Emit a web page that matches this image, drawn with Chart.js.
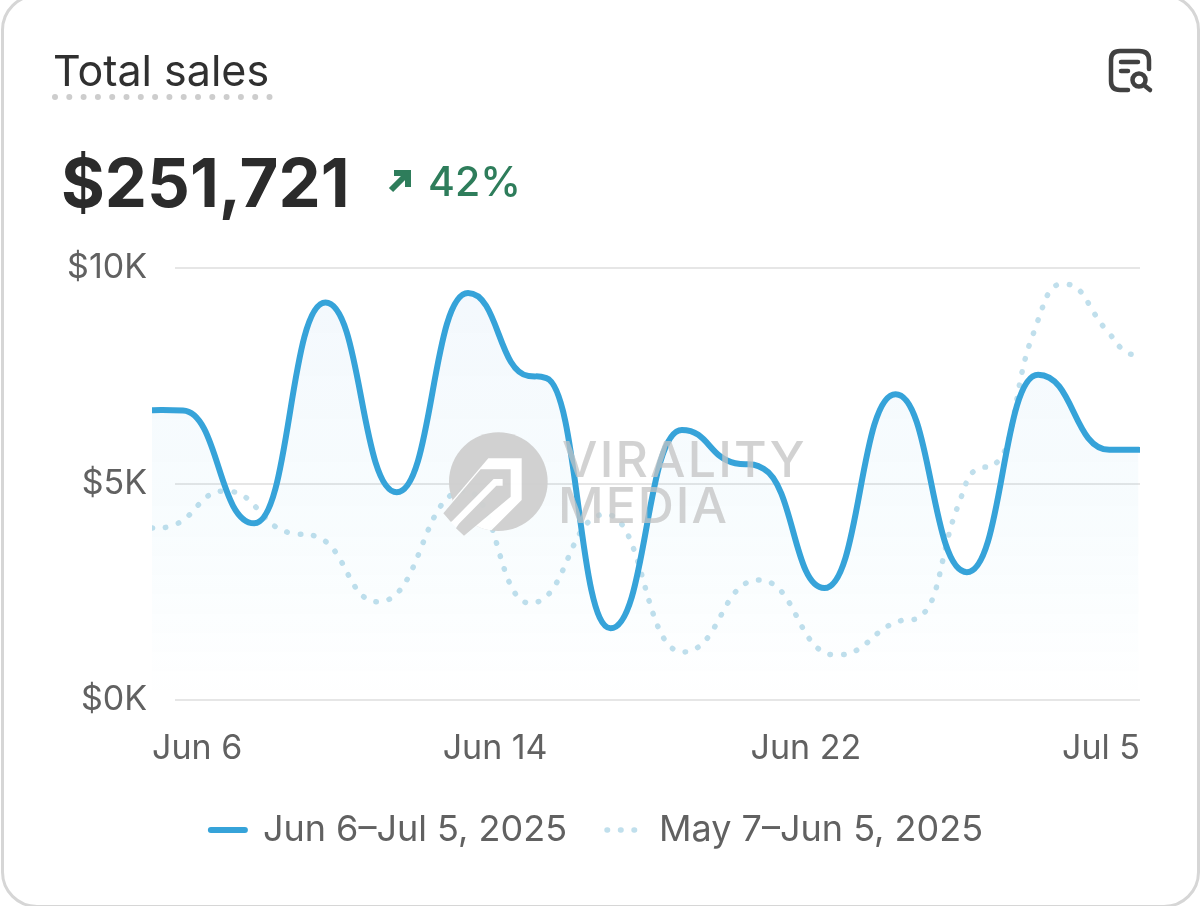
<!DOCTYPE html>
<html><head><meta charset="utf-8">
<style>
html,body{margin:0;padding:0;background:#fff;width:1200px;height:906px;overflow:hidden;font-family:Inter,sans-serif}
#card{position:absolute;left:1px;top:-6px;width:1193px;height:908px;border:3px solid #d6d6d6;border-radius:36px;box-sizing:content-box}
canvas{position:absolute;left:0;top:0}
.t{position:absolute;white-space:nowrap;line-height:1}
svg{position:absolute;overflow:visible}
</style></head><body>
<div id="card"></div>
<canvas id="c" width="1200" height="906" style="width:1200px;height:906px"></canvas>
<div class="t" style="left:53px;top:49px;font-size:43px;color:#303030">Total sales</div>
<svg style="left:0;top:0" width="10" height="10"><line x1="55" y1="97" x2="270" y2="97" stroke="#cdcdcd" stroke-width="6" stroke-linecap="round" stroke-dasharray="0 14.3"/></svg>
<div class="t" style="left:61px;top:149px;font-size:67px;font-weight:700;color:#2b2b2b">$251,721</div>
<svg style="left:386px;top:168px" width="30" height="28" viewBox="0 0 30 28"><path d="M5 22 L21 6 M8 5 H22 V19" fill="none" stroke="#2e7d5b" stroke-width="6"/></svg>
<div class="t" style="left:428px;top:161px;font-size:41px;font-weight:500;color:#2e7d5b">42%</div>
<svg style="left:1108px;top:48px" width="46" height="46" viewBox="0 0 46 46" fill="none" stroke="#414141" stroke-width="4.5" stroke-linecap="round">
<path d="M20 42 H12 Q3 42 3 33 V12 Q3 3 12 3 H31 Q41 3 41 12 V21"/><path d="M13 14 H30 M13 23 H20"/><circle cx="31" cy="32" r="6.5"/><path d="M37 38 L42 42"/></svg>
<svg style="left:440px;top:425px;opacity:.95" width="120" height="115" viewBox="0 0 360 345">
<defs><clipPath id="disc"><circle cx="175" cy="170" r="148"/></clipPath></defs>
<circle cx="175" cy="170" r="148" fill="#cfcfcf"/>
<polygon points="145,100 245,100 245,225 150,320 55,330 0,270" fill="#fff" clip-path="url(#disc)"/>
<polygon points="122,133 212,133 212,215 72,332 48,310 60,290 32,290 10,265" fill="#cfcfcf"/>
<path d="M40 299 L165 172 H188" fill="none" stroke="#fff" stroke-width="20"/>
</svg>
<div class="t" style="left:562px;top:434px;font-size:50px;font-weight:500;color:rgba(195,195,195,.75);letter-spacing:2.2px">VIRALITY</div>
<div class="t" style="left:558px;top:480px;font-size:50px;font-weight:500;color:rgba(195,195,195,.75);letter-spacing:2px">MEDIA</div>
<script src="https://cdn.jsdelivr.net/npm/chart.js@4"></script>
<script>
const currentLabel = 'Jun 6–Jul 5, 2025';
const previousLabel = 'May 7–Jun 5, 2025';
const currentX = [-0.435,0,1,2,3,4,4.85,5.1,6,7,7.75,8.15,9,10,11,12,13,13.41];
const currentValues = [6.71,6.70,4.09,9.2,4.81,9.42,7.5,7.45,1.66,6.25,5.48,5.35,2.59,7.08,2.96,7.53,5.79,5.79];
const previousX = [-0.435,-0.18,0.59,1.5,1.88,2.74,3.96,4.87,5.93,7.01,8.08,9.16,10.11,10.39,10.87,11.12,11.45,11.9,12.36,12.98,13.23,13.41];
const previousValues = [3.98,4.02,4.84,3.87,3.78,2.27,4.85,2.24,4.3,1.11,2.78,1.04,1.85,2.0,4.47,5.32,5.55,8.33,9.63,8.52,8.06,7.99];
const xTickLabels = ['Jun 6','Jun 14','Jun 22','Jul 5'];
const xTickPositions = [-0.435,4.38,8.74,13.43];
const yTicks = [0,5,10];

const blue = '#36a3d9', pale = '#c0dfec';
const toPts = (xs,ys) => ys.map((y,i)=>({x:xs[i],y}));

const gridPlugin = {
  id:'insetGrid',
  afterDatasetsUpdate(chart){
    // lengthen the monotone handles so peaks are round, as in the reference
    chart.getSortedVisibleDatasetMetas().forEach(meta=>{
      const line=meta.dataset;
      line.updateControlPoints(chart.chartArea);
      line.points.forEach(p=>{
        p.cp1x=p.x+(p.cp1x-p.x)*1.5;p.cp1y=p.y+(p.cp1y-p.y)*1.5;
        p.cp2x=p.x+(p.cp2x-p.x)*1.5;p.cp2y=p.y+(p.cp2y-p.y)*1.5;
      });
    });
  },
  beforeDatasetsDraw(chart){
    const {ctx,scales:{y},chartArea} = chart;
    ctx.save();ctx.strokeStyle='#e6e6e6';ctx.lineWidth=2;
    y.ticks.forEach(t=>{const p=y.getPixelForValue(t.value);ctx.beginPath();ctx.moveTo(175,p);ctx.lineTo(chartArea.right,p);ctx.stroke();});
    ctx.restore();
  }
};

new Chart(document.getElementById('c'),{
  type:'line',
  plugins:[gridPlugin],
  data:{datasets:[
    {label:currentLabel,data:toPts(currentX,currentValues),borderColor:blue,borderWidth:6,pointRadius:0,cubicInterpolationMode:'monotone',borderCapStyle:'round',fill:'origin',
     backgroundColor(ctx){const a=ctx.chart.chartArea;if(!a)return 'rgba(54,163,217,.05)';const g=ctx.chart.ctx.createLinearGradient(0,a.top,0,a.bottom);g.addColorStop(0,'rgba(54,130,217,.06)');g.addColorStop(0.6,'rgba(54,180,225,.035)');g.addColorStop(1,'rgba(54,180,225,0)');return g;},order:0},
    {label:previousLabel,data:toPts(previousX,previousValues),borderColor:pale,borderWidth:5.5,borderDash:[0.5,13],borderCapStyle:'round',pointRadius:0,cubicInterpolationMode:'monotone',fill:false,order:1}
  ]},
  options:{
    responsive:false,animation:false,devicePixelRatio:1,
    layout:{padding:{top:268,bottom:48,left:54,right:60}},
    scales:{
      x:{type:'linear',min:-0.435,max:13.43,border:{display:false},grid:{display:false,drawTicks:false},
        afterBuildTicks(s){s.ticks=xTickPositions.map(value=>({value}));},
        afterFit(s){s.height=72;},
        ticks:{autoSkip:false,maxRotation:0,align:'inner',padding:28,color:'#616161',font:{family:'Inter',size:34},
          callback(v){return xTickLabels[xTickPositions.indexOf(v)];}}},
      y:{min:0,max:10,border:{display:false},grid:{display:false,drawTicks:false},
        afterBuildTicks(s){s.ticks=yTicks.map(value=>({value}));},
        afterFit(s){s.width=98;},
        ticks:{padding:5,color:'#616161',font:{family:'Inter',size:34},callback(v){return '$'+v+'K';}}}
    },
    plugins:{
      tooltip:{enabled:false},
      legend:{position:'bottom',labels:{usePointStyle:true,pointStyleWidth:34,boxHeight:20,padding:40,color:'#616161',font:{family:'Inter',size:36},
        generateLabels(chart){return chart.data.datasets.map((d,i)=>({text:d.label,datasetIndex:i,strokeStyle:d.borderColor,fillStyle:d.borderColor,lineWidth:i?5.5:6,lineDash:d.borderDash||[],lineCap:'round',pointStyle:'line',fontColor:'#616161'}));}}}
    }
  }
});
</script>
</body></html>
